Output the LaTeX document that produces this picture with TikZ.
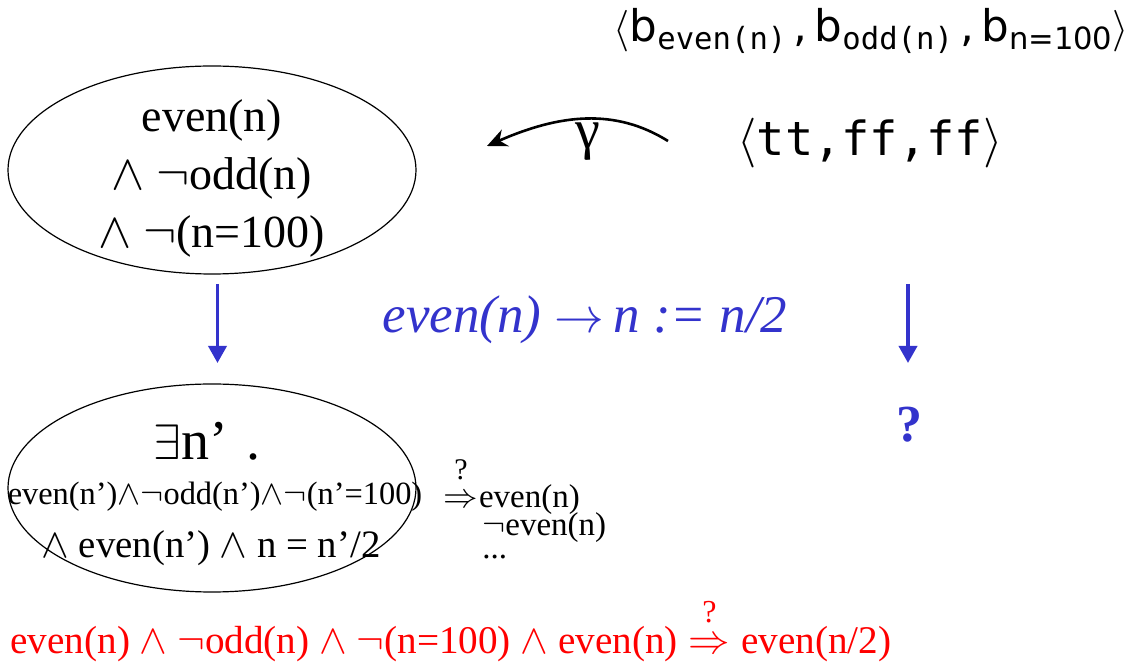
\documentclass[tikz,border=0pt]{standalone}
\usepackage{fontspec}
\setmainfont{Liberation Serif}
\newfontfamily\sansfam{DejaVu Sans}
\newfontfamily\monofam{DejaVu Sans Mono}
\usetikzlibrary{arrows.meta, shapes.geometric, positioning}

\definecolor{stepblue}{RGB}{51,51,204}
\newcommand{\fs}[1]{\fontsize{#1}{1.2\dimexpr#1pt\relax}\selectfont}

\tikzset{
  stateshape/.style={ellipse, draw, line width=0.6pt, minimum width=204pt,
    minimum height=104pt, inner sep=0pt},
  txt/.style={inner sep=0pt},
  bluearrow/.style={-{Triangle[length=8.5pt, width=9pt]}, stepblue,
    line width=1.8pt},
}

\begin{document}
\begin{tikzpicture}[x=0.5pt, y=-0.5pt]
  \useasboundingbox (0,0) rectangle (1136,662);

  % concrete states
  \node[stateshape] (pre) at (212,170) {};
  \node[txt, align=center, font=\fontsize{23}{29}\selectfont] (pretext) at (212,178)
    {even(n)\\ $\wedge$ $\neg$odd(n)\\ $\wedge$ $\neg$(n=100)};

  \node[stateshape] (post) at (212,488) {};
  \node[txt, font=\fs{28}] (exists) at (207,441) {$\exists$n’\,\,.};
  \node[txt, font=\fs{16.2}] (inv) at (215,497)
    {even(n’)$\wedge\neg$odd(n’)$\wedge\neg$(n’=100)};
  \node[txt, font=\fs{19.4}] (eff) at (211,548)
    {$\wedge$ even(n’) $\wedge$ n = n’/2};

  % candidate consequences
  \node[txt, font=\fs{16.5}] (imp1) at (461,501) {$\Rightarrow$};
  \node[txt, font=\fs{15}, above=7pt of imp1] (q1) {?};
  \node[txt, font=\fs{16.5}, anchor=base west] (cand1) at (imp1.base east) {even(n)};
  \node[txt, anchor=west, font=\fs{16.5}] (cand2) at (482,528) {$\neg$even(n)};
  \node[txt, anchor=west, font=\fs{16.5}] (cand3) at (482,557) {...};

  % abstract side
  \node[txt, anchor=base east, font=\sansfam\fs{21.8}] (bvec) at (1129,42)
    {$\langle$b\raisebox{-4pt}{\monofam\fs{15.3}even(n)}\,,\,b\raisebox{-4pt}{\monofam\fs{15.3}odd(n)}\,,\,b\raisebox{-4pt}{\fs{15.3}n=100}$\rangle$};
  \node[txt, font=\monofam\fs{23.5}] (abs) at (870,143) {$\langle$tt,ff,ff$\rangle$};

  % concretisation
  \coordinate (gfrom) at (668,141);
  \coordinate (gto) at (487,146);
  \draw[-{Stealth[length=10pt, width=9pt]}, line width=1.3pt]
    (gfrom) .. controls (615,108) and (560,114) .. (gto);
  \node[txt, font=\fs{28}] (gamma) at (588,142) {γ};

  % the transition
  \node[txt, stepblue, font=\fs{26.5}] (cmd) at (585,320)
    {\itshape even(n) $\rightarrow$\,n := n/2};
  \coordinate (ltop) at (217.5,284);
  \coordinate (lbot) at (217.5,363);
  \draw[bluearrow] (ltop) -- (lbot);
  \coordinate (rtop) at (908,284);
  \coordinate (rbot) at (908,363);
  \draw[bluearrow] (rtop) -- (rbot);
  \node[txt, stepblue, font=\bfseries\fs{26}] (unknown) at (909,425) {?};

  % proof obligation
  \begin{scope}[red, every node/.append style={txt, font=\fs{19.6}}]
    \node[anchor=west] (goalL) at (10,644)
      {even(n) $\wedge$ $\neg$odd(n) $\wedge$ $\neg$(n=100) $\wedge$ even(n)};
    \node[anchor=base west, xshift=5pt] (imp2) at (goalL.base east) {$\Rightarrow$};
    \node[above=7pt of imp2, font=\fs{16}] (q2) {?};
    \node[anchor=base west, xshift=5pt] (goalR) at (imp2.base east) {even(n/2)};
  \end{scope}
\end{tikzpicture}
\end{document}
